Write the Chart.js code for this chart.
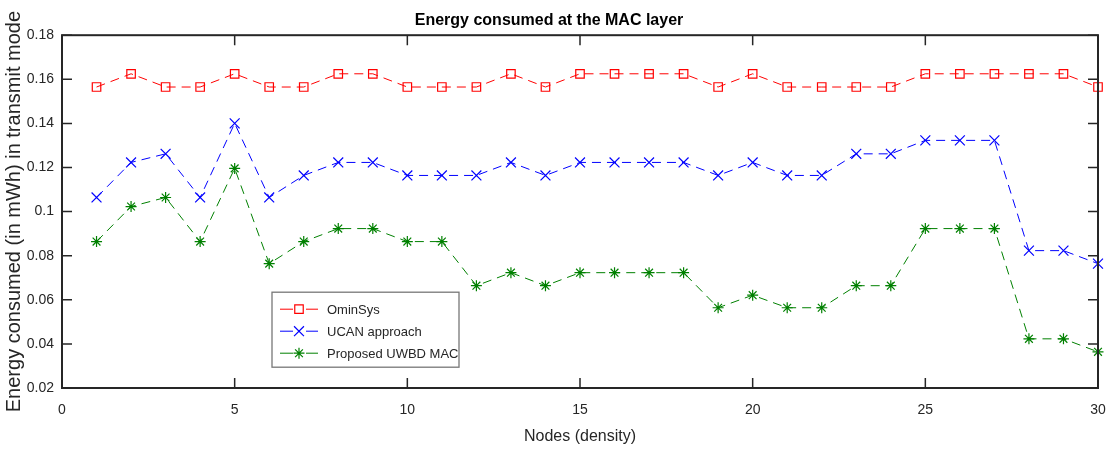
<!DOCTYPE html>
<html>
<head>
<meta charset="utf-8">
<script src="https://cdn.jsdelivr.net/npm/chart.js@4/dist/chart.umd.min.js"></script>
<style>
  html, body { margin: 0; padding: 0; background: #fff; }
  #wrap { width: 1109px; height: 450px; }
</style>
</head>
<body>
<div id="wrap"><canvas id="chart"></canvas></div>
<script>
// values
const nodes = Array.from({ length: 30 }, (_, i) => i + 1)
const ominSys = [0.1565, 0.1625, 0.1565, 0.1565, 0.1625, 0.1565, 0.1565, 0.1625, 0.1625, 0.1565,
  0.1565, 0.1565, 0.1625, 0.1565, 0.1625, 0.1625, 0.1625, 0.1625, 0.1565, 0.1625,
  0.1565, 0.1565, 0.1565, 0.1565, 0.1625, 0.1625, 0.1625, 0.1625, 0.1625, 0.1565]
const ucan = [0.1064, 0.1223, 0.1262, 0.1064, 0.14, 0.1064, 0.1164, 0.1223, 0.1223, 0.1164,
  0.1164, 0.1164, 0.1223, 0.1164, 0.1223, 0.1223, 0.1223, 0.1223, 0.1164, 0.1223,
  0.1164, 0.1164, 0.1262, 0.1262, 0.1323, 0.1323, 0.1323, 0.0823, 0.0823, 0.0764]
const uwbd = [0.0864, 0.1023, 0.1064, 0.0864, 0.1196, 0.0764, 0.0864, 0.0923, 0.0923, 0.0864,
  0.0864, 0.0664, 0.0723, 0.0664, 0.0723, 0.0723, 0.0723, 0.0723, 0.0564, 0.0621,
  0.0564, 0.0564, 0.0664, 0.0664, 0.0923, 0.0923, 0.0923, 0.0423, 0.0423, 0.0364]
const seriesNames = ['OminSys', 'UCAN approach', 'Proposed UWBD MAC']
const xTicks = [0, 5, 10, 15, 20, 25, 30]
const yTicks = [0.02, 0.04, 0.06, 0.08, 0.1, 0.12, 0.14, 0.16, 0.18]

const axisColor = '#262626'
const font = 'Liberation Sans, Arial, sans-serif'
const dash = [9, 6]

function series (label, values, color, style, radius) {
  return {
    label,
    data: values.map((v, i) => ({ x: nodes[i], y: v })),
    borderColor: color,
    backgroundColor: 'rgba(0,0,0,0)',
    borderWidth: 1,
    borderDash: dash,
    pointStyle: style,
    pointRadius: radius,
    pointBorderColor: color,
    pointBorderWidth: 1.2,
    pointBackgroundColor: 'rgba(0,0,0,0)',
    tension: 0,
    clip: false
  }
}

// inward ticks, box and the legend, MATLAB style
const boxPlugin = {
  id: 'box',
  afterDraw (chart) {
    const { ctx, chartArea: a, scales } = chart
    ctx.save()
    ctx.strokeStyle = axisColor
    ctx.lineWidth = 2
    ctx.setLineDash([])
    ctx.strokeRect(a.left, a.top, a.right - a.left, a.bottom - a.top)
    ctx.lineWidth = 1.5
    ctx.beginPath()
    xTicks.forEach(t => {
      const x = scales.x.getPixelForValue(t)
      ctx.moveTo(x, a.bottom); ctx.lineTo(x, a.bottom - 10)
      ctx.moveTo(x, a.top); ctx.lineTo(x, a.top + 10)
    })
    yTicks.forEach(t => {
      const y = scales.y.getPixelForValue(t)
      ctx.moveTo(a.left, y); ctx.lineTo(a.left + 10, y)
      ctx.moveTo(a.right, y); ctx.lineTo(a.right - 10, y)
    })
    ctx.stroke()

    // legend box
    const lx = a.left + 210
    const ly = a.top + 257
    ctx.fillStyle = '#fff'
    ctx.fillRect(lx, ly, 187, 75)
    ctx.strokeStyle = '#777'
    ctx.lineWidth = 1.3
    ctx.strokeRect(lx, ly, 187, 75)
    chart.data.datasets.forEach((ds, i) => {
      const y = ly + 17 + i * 22
      ctx.strokeStyle = ds.borderColor
      ctx.lineWidth = 1
      ctx.beginPath()
      ctx.moveTo(lx + 8, y); ctx.lineTo(lx + 21, y)
      ctx.moveTo(lx + 34, y); ctx.lineTo(lx + 46, y)
      ctx.stroke()
      ctx.lineWidth = 1.2
      Chart.helpers.drawPoint(ctx, { pointStyle: ds.pointStyle, radius: ds.pointRadius, rotation: 0, borderWidth: 1.2 }, lx + 27, y)
      ctx.fillStyle = axisColor
      ctx.font = '13px ' + font
      ctx.textAlign = 'left'
      ctx.textBaseline = 'middle'
      ctx.fillText(ds.label, lx + 55, y + 1)
    })
    ctx.restore()
  }
}

new Chart(document.getElementById('chart'), {
  type: 'line',
  data: {
    datasets: [
      series(seriesNames[0], ominSys, '#ff0000', 'rect', 6),
      series(seriesNames[1], ucan, '#0000ff', 'crossRot', 7),
      series(seriesNames[2], uwbd, '#008000', 'star', 5.5)
    ]
  },
  options: {
    responsive: true,
    maintainAspectRatio: false,
    animation: false,
    layout: { padding: { top: 0, right: 11, bottom: 0, left: 0 } },
    plugins: {
      legend: { display: false },
      tooltip: { enabled: false },
      title: {
        display: true,
        text: 'Energy consumed at the MAC layer',
        color: '#000',
        font: { family: font, size: 16, weight: 'bold' },
        padding: { top: 11, bottom: 5 }
      }
    },
    scales: {
      x: {
        type: 'linear',
        min: 0,
        max: 30,
        afterBuildTicks: s => { s.ticks = xTicks.map(v => ({ value: v })) },
        afterFit: s => { s.height = 62; s.paddingLeft = 0; s.paddingRight = 0 },
        grid: { display: false, drawTicks: false },
        border: { display: false },
        ticks: { color: axisColor, font: { family: font, size: 14 }, padding: 14 },
        title: { display: true, text: 'Nodes (density)', color: axisColor, font: { family: font, size: 16 }, padding: { top: 4, bottom: 4 } }
      },
      y: {
        min: 0.02,
        max: 0.18,
        afterBuildTicks: s => { s.ticks = yTicks.map(v => ({ value: v })) },
        afterFit: s => { s.width = 62; s.paddingTop = 0; s.paddingBottom = 0 },
        grid: { display: false, drawTicks: false },
        border: { display: false },
        ticks: {
          color: axisColor,
          font: { family: font, size: 14 },
          padding: 8,
          callback: v => String(Math.round(v * 100) / 100)
        },
        title: { display: true, text: 'Energy consumed (in mWh) in transmit mode', color: axisColor, font: { family: font, size: 20 }, padding: { top: 2, bottom: 0 } }
      }
    }
  },
  plugins: [boxPlugin]
})
</script>
</body>
</html>
